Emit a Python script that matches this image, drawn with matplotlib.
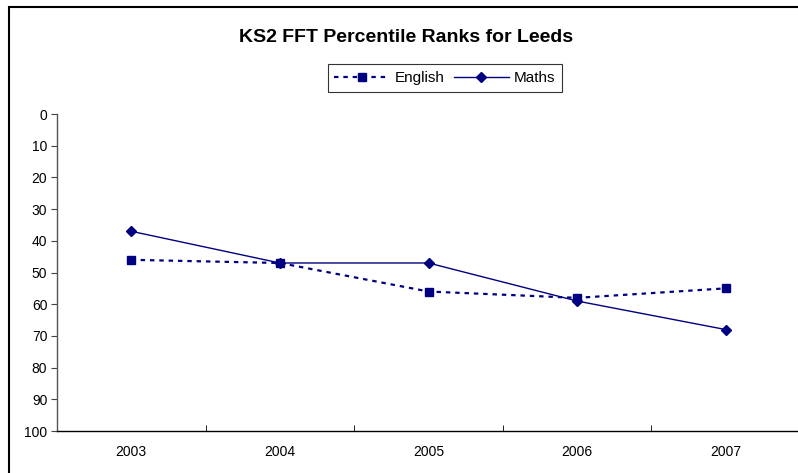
import numpy as np
import matplotlib
matplotlib.use("Agg")
import matplotlib.pyplot as plt
from matplotlib.patches import Rectangle

plt.rcParams['font.family'] = ['Liberation Sans', 'DejaVu Sans']

years = ['2003', '2004', '2005', '2006', '2007']
english = [46, 47, 56, 58, 55]
maths = [37, 47, 47, 59, 68]

navy = '#000080'

fig = plt.figure(figsize=(7.98, 4.73), dpi=100)

# outer chart border (Excel style, cropped at right/bottom)
fig.patches.append(Rectangle((9 / 798, -0.1), 1.2, 1 - 7 / 473 + 0.1,
                             transform=fig.transFigure, fill=False,
                             edgecolor='black', linewidth=1.5))

ax = fig.add_axes([57 / 798, 42 / 473, 743 / 798, 317 / 473])
x = np.arange(len(years))

ax.plot(x, english, color=navy, linestyle=(0, (2, 2.2)), linewidth=1.6,
        marker='s', markersize=6, label='English')
ax.plot(x, maths, color=navy, linestyle='-', linewidth=1.0,
        marker='D', markersize=5, label='Maths')

ax.set_xlim(-0.5, len(years) - 0.5)
ax.set_ylim(100, 0)
ax.set_yticks(np.arange(0, 101, 10))
ax.set_xticks(x)
ax.set_xticklabels(years)
ax.set_xticks(np.arange(-0.5, len(years)), minor=True)
ax.tick_params(axis='x', which='major', length=0, labelsize=10, pad=10)
ax.tick_params(axis='x', which='minor', length=4, direction='in', color='black')
ax.tick_params(axis='y', length=4, direction='out', labelsize=10, pad=3,
               color='#444444')

for s in ['top', 'right']:
    ax.spines[s].set_visible(False)
ax.spines['left'].set_color('#555555')
ax.spines['bottom'].set_color('black')
ax.spines['left'].set_linewidth(1.0)
ax.spines['bottom'].set_linewidth(1.0)

fig.text(406 / 798, 1 - 37 / 473, 'KS2 FFT Percentile Ranks for Leeds',
         ha='center', va='center', fontsize=14, fontweight='bold')

leg = fig.legend(loc='center', bbox_to_anchor=(445 / 798, 1 - 78 / 473),
                 ncol=2, fontsize=11, frameon=True, fancybox=False,
                 handlelength=3.6, columnspacing=0.6, handletextpad=0.35,
                 borderpad=0.45, borderaxespad=0)
leg.get_frame().set_edgecolor('black')
leg.get_frame().set_linewidth(0.8)

fig.savefig('out.png', dpi=100)
